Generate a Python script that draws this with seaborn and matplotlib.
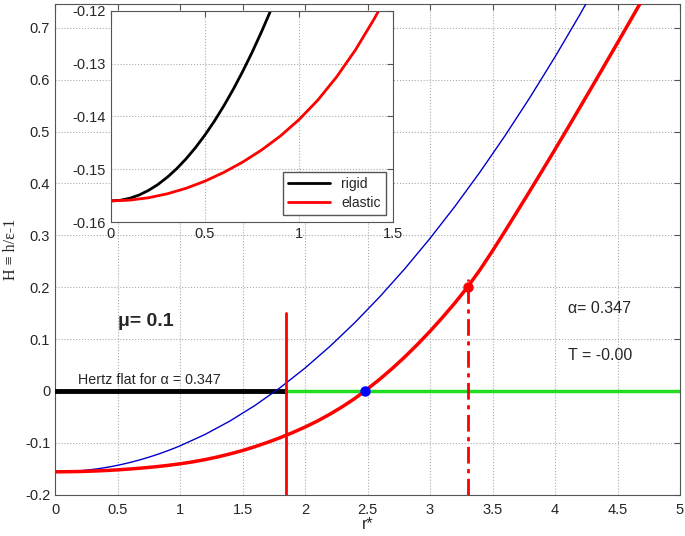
import numpy as np
import pandas as pd
import matplotlib
matplotlib.use('Agg')
import matplotlib.pyplot as plt
import seaborn as sns

# values
r_rigid = [0, 0.05, 0.1, 0.15, 0.2, 0.25, 0.3, 0.35, 0.4, 0.45, 0.5, 0.55, 0.6, 0.65,
           0.7, 0.75, 0.8, 0.85, 0.9, 0.95, 1.0, 1.2, 1.4, 1.6, 1.8, 2.0, 2.2, 2.4,
           2.6, 2.8, 3.0, 3.2, 3.4, 3.6, 3.8, 4.0, 4.2, 4.4]
H_rigid = [-0.156, -0.15588, -0.1555, -0.15488, -0.154, -0.15288, -0.1515, -0.14988,
           -0.148, -0.14588, -0.1435, -0.14088, -0.138, -0.13488, -0.1315, -0.12788,
           -0.124, -0.11988, -0.1155, -0.11088, -0.106, -0.084, -0.058, -0.028,
           0.006, 0.044, 0.086, 0.132, 0.182, 0.236, 0.294, 0.356, 0.422, 0.492,
           0.566, 0.644, 0.726, 0.812]

r_elastic = [0, 0.1, 0.2, 0.3, 0.4, 0.5, 0.6, 0.7, 0.8, 0.9, 1.0, 1.1, 1.2, 1.3, 1.4,
             1.5, 1.6, 1.7, 1.8, 1.9, 2.0, 2.1, 2.2, 2.3, 2.4, 2.48, 2.6, 2.7, 2.8,
             2.9, 3.0, 3.1, 3.2, 3.3, 3.4, 3.5, 3.6, 3.7, 3.8, 3.9, 4.0, 4.1, 4.2,
             4.3, 4.4, 4.5, 4.6, 4.7]
H_elastic = [-0.156, -0.15585, -0.1554, -0.15465, -0.1536, -0.15225, -0.1506,
             -0.14865, -0.14638, -0.14373, -0.1406, -0.1369, -0.1325, -0.1274,
             -0.1215, -0.115, -0.1075, -0.0993, -0.0903, -0.0805, -0.0698, -0.058,
             -0.0448, -0.0303, -0.0144, 0.0, 0.0229, 0.0437, 0.0659, 0.0897, 0.1149,
             0.1417, 0.1699, 0.2, 0.2335, 0.270, 0.308, 0.347, 0.386, 0.4255,
             0.4655, 0.506, 0.547, 0.588, 0.6295, 0.671, 0.713, 0.755]

r_flat = 1.85          # Hertz flat radius
r_zero = 2.48          # elastic curve crosses H = 0
r_mark, H_mark = 3.3, 0.2
alpha = 0.347
mu = 0.1
T = -0.00

xticks = [0, 0.5, 1, 1.5, 2, 2.5, 3, 3.5, 4, 4.5, 5]
xtick_labels = ['0', '0.5', '1', '1.5', '2', '2.5', '3', '3.5', '4', '4.5', '5']
yticks = [-0.2, -0.1, 0, 0.1, 0.2, 0.3, 0.4, 0.5, 0.6, 0.7]
ytick_labels = ['-0.2', '-0.1', '0', '0.1', '0.2', '0.3', '0.4', '0.5', '0.6', '0.7']
inset_xticks = [0, 0.5, 1, 1.5]
inset_xtick_labels = ['0', '0.5', '1', '1.5']
inset_yticks = [-0.16, -0.15, -0.14, -0.13, -0.12]
inset_ytick_labels = ['-0.16', '-0.15', '-0.14', '-0.13', '-0.12']

rigid = pd.DataFrame({'r': r_rigid, 'H': H_rigid})
elastic = pd.DataFrame({'r': r_elastic, 'H': H_elastic})

sns.set_style('white')
plt.rcParams['font.family'] = ['Liberation Sans', 'DejaVu Sans']
plt.rcParams['axes.unicode_minus'] = False

fig = plt.figure(figsize=(6.85, 5.36), dpi=100)
ax = fig.add_axes([0.0803, 0.0772, 0.9124, 0.9153])

# horizontal line at H = 0 : black up to the flat, green beyond
ax.plot([0, r_flat], [0, 0], color='black', lw=3.5, zorder=3)
ax.plot([r_flat, 5], [0, 0], color='#22dd22', lw=2.5, zorder=3)

sns.lineplot(data=rigid, x='r', y='H', ax=ax, color='#0000cc', lw=1,
             sort=False, estimator=None, zorder=4)
sns.lineplot(data=elastic, x='r', y='H', ax=ax, color='red', lw=2.5,
             sort=False, estimator=None, zorder=5)

ax.plot([r_flat, r_flat], [-0.2, 0.15], color='red', lw=2, zorder=5)
ax.plot([r_mark, r_mark], [-0.2, 0.216], color='red', lw=2,
        linestyle=(0, (6, 2, 1.5, 2)), zorder=5)
ax.plot([r_zero], [0], 'o', color='blue', ms=6.5, zorder=6)
ax.plot([r_mark], [H_mark], 'o', color='red', ms=6.5, zorder=6)

ax.text(0.18, 0.008, 'Hertz flat for α = %.3f' % alpha, fontsize=10.3, va='bottom')
ax.text(0.5, 0.134, 'μ= %.1f' % mu, fontsize=14, fontweight='bold', va='center')
ax.text(4.1, 0.158, 'α= %.3f' % alpha, fontsize=11.5, va='center')
ax.text(4.1, 0.068, 'T = %.2f' % T, fontsize=11.5, va='center')

ax.set_xlim(0, 5)
ax.set_ylim(-0.2, 0.746)
ax.set_xticks(xticks)
ax.set_xticklabels(xtick_labels)
ax.set_yticks(yticks)
ax.set_yticklabels(ytick_labels)
ax.tick_params(direction='in', top=True, right=True, length=4, labelsize=10.5,
               color='#555555')
ax.tick_params(axis='x', pad=6)
ax.grid(True, linestyle=':', color='#aaaaaa', lw=0.8)
ax.set_xlabel('r*', fontsize=11.5, labelpad=0)
ax.set_ylabel('H ≡ h/ε-1', fontsize=11.5, family=['Liberation Serif', 'DejaVu Serif'],
              labelpad=4)
for s in ax.spines.values():
    s.set_color('#555555')
    s.set_linewidth(0.8)

# inset zoom near r = 0
ins = fig.add_axes([0.162, 0.5858, 0.4117, 0.3937])
sns.lineplot(data=rigid, x='r', y='H', ax=ins, color='black', lw=2,
             sort=False, estimator=None, label='rigid')
sns.lineplot(data=elastic, x='r', y='H', ax=ins, color='red', lw=2,
             sort=False, estimator=None, label='elastic')
ins.set_xlim(0, 1.5)
ins.set_ylim(-0.16, -0.12)
ins.set_xticks(inset_xticks)
ins.set_xticklabels(inset_xtick_labels)
ins.set_yticks(inset_yticks)
ins.set_yticklabels(inset_ytick_labels)
ins.set_xlabel('')
ins.set_ylabel('')
ins.tick_params(direction='in', top=True, right=True, length=4, labelsize=10.5,
                color='#555555')
ins.grid(True, linestyle=':', color='#aaaaaa', lw=0.8)
for s in ins.spines.values():
    s.set_color('#555555')
    s.set_linewidth(0.8)
ins.legend(loc='lower right', fontsize=10, frameon=True, fancybox=False,
           edgecolor='#555555', framealpha=1, handlelength=3,
           borderpad=0.4, labelspacing=0.3)

fig.savefig('out.png', dpi=100)
